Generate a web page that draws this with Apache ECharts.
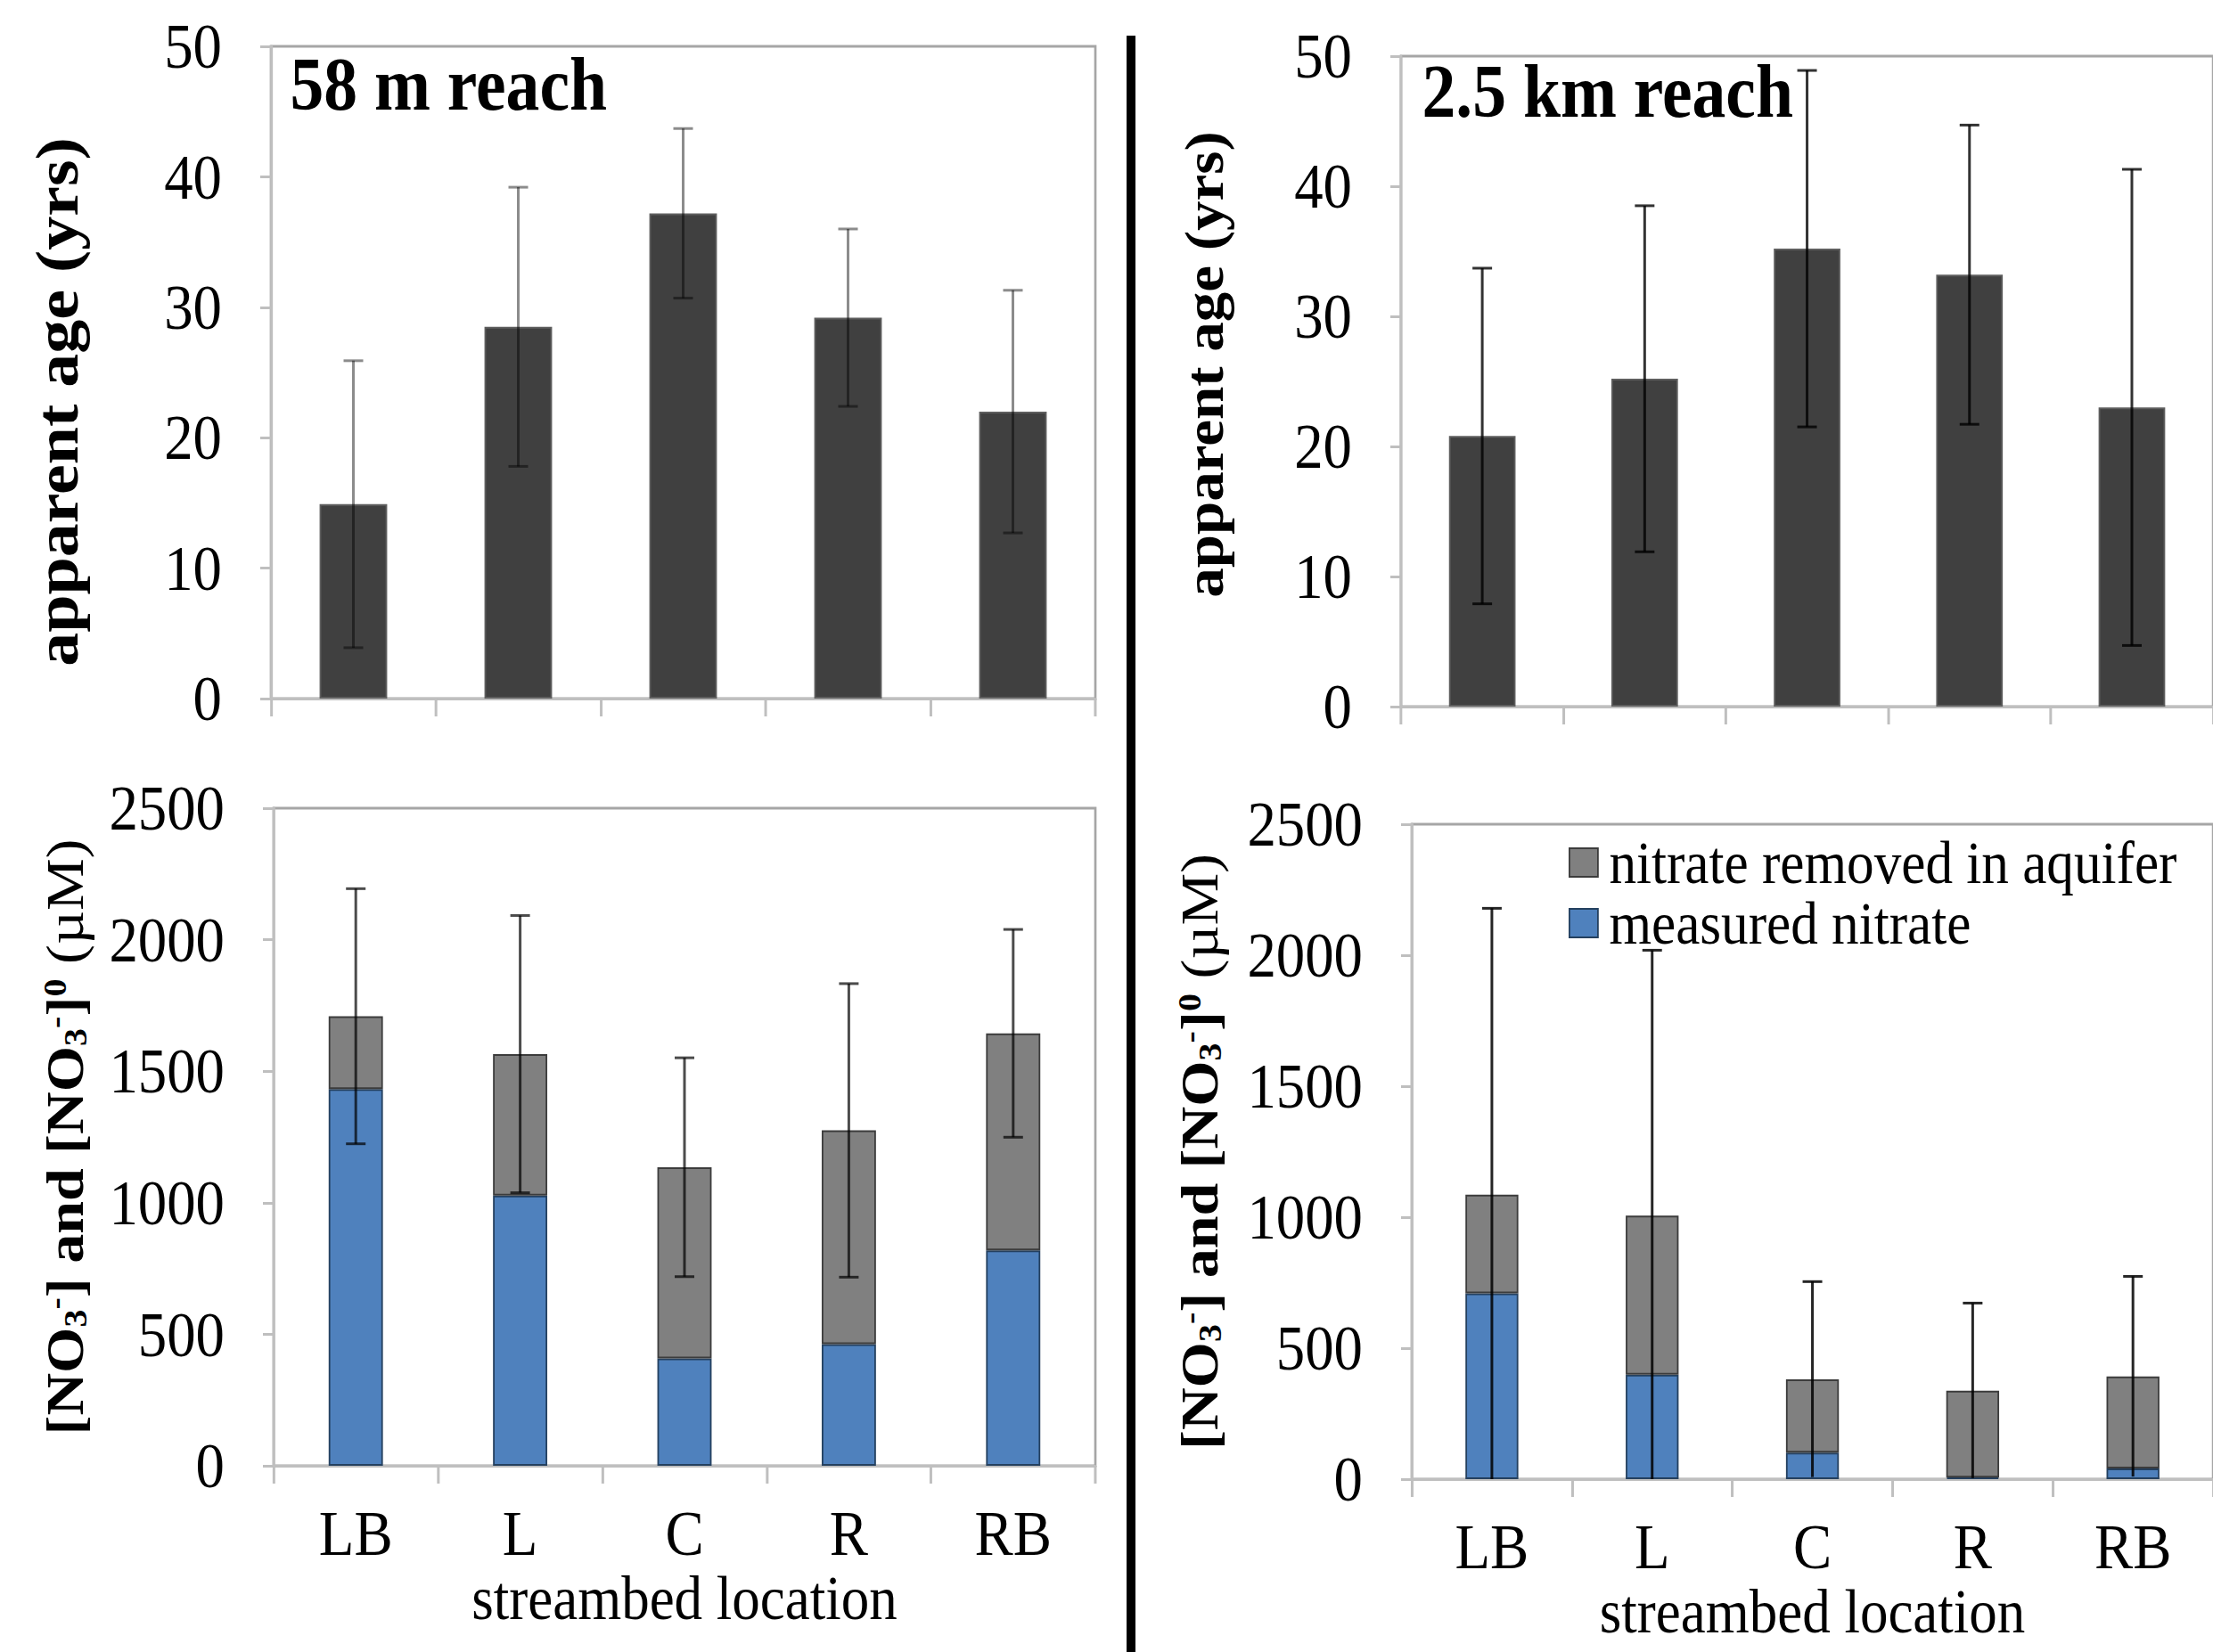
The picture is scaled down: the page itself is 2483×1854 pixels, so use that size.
<!DOCTYPE html>
<html>
<head>
<meta charset="utf-8">
<title>apparent age and nitrate by streambed location</title>
<script src="https://cdn.jsdelivr.net/npm/echarts@6/dist/echarts.min.js"></script>
<style>
  html, body { margin: 0; padding: 0; background: #fff; overflow: hidden; }
  #chart { width: 2759px; height: 1854px; transform: scaleX(0.9); transform-origin: 0 0; }
</style>
</head>
<body>
<div id="chart"></div>
<script>
// data
const categories = ['LB', 'L', 'C', 'R', 'RB'];

// apparent age (yrs), mean and error
const age58 = [14.9, 28.5, 37.2, 29.2, 22.0];
const age58Err = [11.0, 10.7, 6.5, 6.8, 9.3];
const age25 = [20.8, 25.2, 35.2, 33.2, 23.0];
const age25Err = [12.9, 13.3, 13.7, 11.5, 18.3];

// nitrate (µM): measured part + removed part, error on the total
const measured58 = [1432, 1027, 408, 462, 819];
const removed58 = [277, 538, 727, 813, 825];
const nitrate58Err = [485, 527, 416, 558, 395];
const measured25 = [709, 399, 101, 6, 41];
const removed25 = [377, 607, 280, 332, 351];
const nitrate25Err = [1093, 1013, 373, 334, 382];

const ageTicks = { min: 0, max: 50, interval: 10 };
const nitrateTicks = { min: 0, max: 2500, interval: 500 };

// the original figure is squeezed horizontally, the page is too
const SQ = 0.9;
const px = v => v / SQ;
const FONT = "'Liberation Serif', 'Times New Roman', serif";
const AXIS_GRAY = '#bfbfbf';

const chart = echarts.init(document.getElementById('chart'), null, { renderer: 'svg' });

function errData(mid, err) {
  return mid.map((m, i) => [i, Math.max(0, m - err[i]), m + err[i]]);
}

function errSeries(idx, data, color) {
  return {
    type: 'custom',
    xAxisIndex: idx,
    yAxisIndex: idx,
    z: 5,
    data: data,
    encode: { x: 0, y: [1, 2] },
    renderItem: function (params, api) {
      const i = api.value(0);
      const lo = api.value(1);
      const hi = api.value(2);
      const top = api.coord([i, hi]);
      const bot = api.coord([i, lo]);
      const zero = api.coord([i, 0]);
      const cap = px(11);
      const st = { stroke: color, lineWidth: px(3) };
      const capSt = { stroke: color, lineWidth: 3 };
      const kids = [
        { type: 'line', shape: { x1: top[0], y1: top[1], x2: bot[0], y2: bot[1] }, style: st },
        { type: 'line', shape: { x1: top[0] - cap, y1: top[1], x2: top[0] + cap, y2: top[1] }, style: capSt }
      ];
      // no lower cap when the bar reaches down to the axis
      if (zero[1] - bot[1] > 8) {
        kids.push({ type: 'line', shape: { x1: bot[0] - cap, y1: bot[1], x2: bot[0] + cap, y2: bot[1] }, style: capSt });
      }
      return { type: 'group', children: kids };
    }
  };
}

function xAxisOf(idx, showLabels) {
  return {
    type: 'category',
    gridIndex: idx,
    data: categories,
    boundaryGap: true,
    axisLine: { show: true, lineStyle: { color: AXIS_GRAY, width: 3 } },
    axisTick: { show: true, interval: 0, length: 20, lineStyle: { color: AXIS_GRAY, width: px(3) } },
    axisLabel: { show: showLabels, color: '#000', fontFamily: FONT, fontSize: 72, margin: 40 },
    name: showLabels ? 'streambed location' : '',
    nameLocation: 'middle',
    nameGap: 108,
    nameTextStyle: { color: '#000', fontFamily: FONT, fontSize: 70 },
    splitLine: { show: false }
  };
}

function yAxisOf(idx, ticks, name, gap, nameStyle) {
  return Object.assign({
    type: 'value',
    gridIndex: idx,
    axisLine: { show: true, lineStyle: { color: AXIS_GRAY, width: px(3) } },
    axisTick: { show: true, length: px(12), lineStyle: { color: AXIS_GRAY, width: 3 } },
    axisLabel: {
      color: '#000', fontFamily: FONT, fontSize: 72, margin: px(55),
      formatter: v => String(v)
    },
    splitLine: { show: false },
    name: name,
    nameLocation: 'middle',
    nameRotate: 90,
    nameGap: px(gap),
    nameTextStyle: nameStyle
  }, ticks);
}

const bold = { color: '#000', fontFamily: FONT, fontWeight: 'bold' };
// left panel title is a bit bigger and sits lower than the right one
const ageNameLeft = Object.assign({ fontSize: 76, padding: [0, 66, 0, 0] }, bold);
const ageNameRight = Object.assign({ fontSize: 67, padding: [0, 0, 0, 38] }, bold);
const nitrateName = '{b|[NO}{sub|3}{sup|-}{b|] and [NO}{sub|3}{sup|-}{b|]}{sup|0}{n| (µM)}';
const nitrateNameStyle = {
  color: '#000', fontFamily: FONT, fontSize: 66, fontWeight: 'bold',
  rich: {
    b: { fontFamily: FONT, fontSize: 66, fontWeight: 'bold', color: '#000' },
    sub: { fontFamily: FONT, fontSize: 40, fontWeight: 'bold', color: '#000', verticalAlign: 'bottom' },
    sup: { fontFamily: FONT, fontSize: 40, fontWeight: 'bold', color: '#000', verticalAlign: 'top' },
    n: { fontFamily: FONT, fontSize: 66, fontWeight: 'normal', color: '#000' }
  }
};

const gridStyle = { show: true, borderColor: '#a6a6a6', borderWidth: 3, backgroundColor: 'transparent' };

const ageBar = { color: '#404040', borderColor: '#5e5e5e', borderWidth: 2 };
const blueBar = { color: '#4f81bd', borderColor: '#24405f', borderWidth: 2 };
const grayBar = { color: '#808080', borderColor: '#3c3c3c', borderWidth: 2 };

const option = {
  backgroundColor: '#fff',
  animation: false,
  title: [
    { text: '58 m reach', left: px(321), top: 48, textStyle: { fontFamily: FONT, fontSize: 84, fontWeight: 'bold', color: '#000' } },
    { text: '2.5 km reach', left: px(1591), top: 56, textStyle: { fontFamily: FONT, fontSize: 84, fontWeight: 'bold', color: '#000' } }
  ],
  legend: {
    data: ['nitrate removed in aquifer', 'measured nitrate'],
    orient: 'vertical',
    left: px(1760),
    top: 934,
    padding: 0,
    itemGap: 0,
    itemWidth: px(32),
    itemHeight: 32,
    icon: 'rect',
    textStyle: { fontFamily: FONT, fontSize: 68, color: '#000', padding: [0, 0, 0, px(8)] }
  },
  grid: [
    Object.assign({ left: px(304), top: 52, width: px(925), height: 732 }, gridStyle),
    Object.assign({ left: px(1572), top: 63, width: px(923), height: 730 }, gridStyle),
    Object.assign({ left: px(307), top: 907, width: px(922), height: 738 }, gridStyle),
    Object.assign({ left: px(1584), top: 925, width: px(922), height: 735 }, gridStyle)
  ],
  xAxis: [xAxisOf(0, false), xAxisOf(1, false), xAxisOf(2, true), xAxisOf(3, true)],
  yAxis: [
    yAxisOf(0, ageTicks, 'apparent age (yrs)', 206, ageNameLeft),
    yAxisOf(1, ageTicks, 'apparent age (yrs)', 190, ageNameRight),
    yAxisOf(2, nitrateTicks, nitrateName, 204, nitrateNameStyle),
    yAxisOf(3, nitrateTicks, nitrateName, 208, nitrateNameStyle)
  ],
  graphic: [
    {
      type: 'line',
      shape: { x1: px(1269), y1: 40, x2: px(1269), y2: 1854 },
      style: { stroke: '#000', lineWidth: px(10) },
      z: 100
    }
  ],
  series: [
    { name: 'age58', type: 'bar', xAxisIndex: 0, yAxisIndex: 0, barWidth: '41%', data: age58, itemStyle: ageBar },
    errSeries(0, errData(age58, age58Err), 'rgba(0,0,0,0.45)'),
    { name: 'age25', type: 'bar', xAxisIndex: 1, yAxisIndex: 1, barWidth: '41%', data: age25, itemStyle: ageBar },
    errSeries(1, errData(age25, age25Err), 'rgba(0,0,0,0.8)'),

    { name: 'measured nitrate', type: 'bar', stack: 'n58', xAxisIndex: 2, yAxisIndex: 2, barWidth: '33%', data: measured58, itemStyle: blueBar },
    { name: 'nitrate removed in aquifer', type: 'bar', stack: 'n58', xAxisIndex: 2, yAxisIndex: 2, barWidth: '33%', data: removed58, itemStyle: grayBar },
    errSeries(2, errData(measured58.map((m, i) => m + removed58[i]), nitrate58Err), 'rgba(0,0,0,0.7)'),

    { name: 'measured nitrate', type: 'bar', stack: 'n25', xAxisIndex: 3, yAxisIndex: 3, barWidth: '33%', data: measured25, itemStyle: blueBar },
    { name: 'nitrate removed in aquifer', type: 'bar', stack: 'n25', xAxisIndex: 3, yAxisIndex: 3, barWidth: '33%', data: removed25, itemStyle: grayBar },
    errSeries(3, errData(measured25.map((m, i) => m + removed25[i]), nitrate25Err), 'rgba(0,0,0,0.85)')
  ]
};

chart.setOption(option);
</script>
</body>
</html>
